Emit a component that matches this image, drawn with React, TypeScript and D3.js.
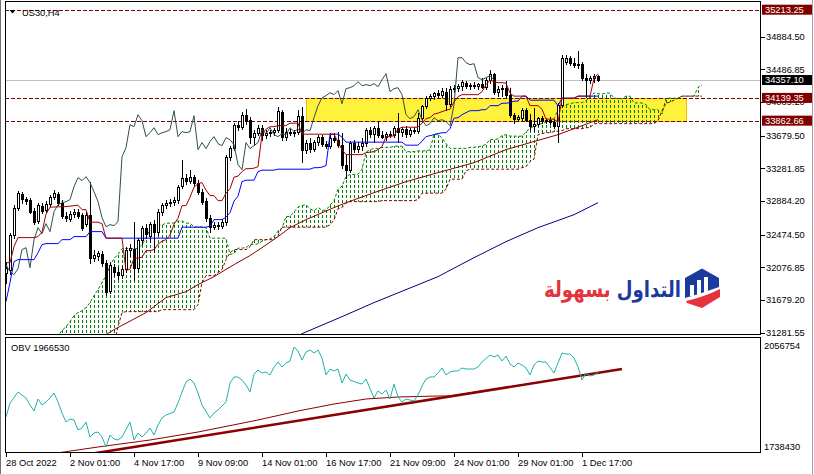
import React from "react";
import * as d3 from "d3";

// ---------- candles (H4 bars, index 0 = 28 Oct 2022) ----------
const opens = [
  32013, 32049, 32475, 32804, 32974, 32913, 32901, 32767, 32645, 32828,
  32779, 32852, 32938, 32974, 32864, 32706, 32670, 32731, 32755, 32718,
  32609, 32718, 32195, 32220, 32244, 32134, 31793, 32086, 32025, 31988,
  32061, 32293, 32305, 32073, 32414, 32560, 32463, 32609, 32512, 32755,
  32840, 32864, 32877, 32901, 33071, 33169, 33132, 33181, 33108, 32998,
  32889, 32682, 32572, 32597, 32585, 32633, 33424, 33534, 33814, 33789,
  33935, 33874, 33668, 33716, 33777, 33692, 33716, 33729, 33753, 33972,
  33668, 33729, 33716, 33729, 33923, 33510, 33595, 33522, 33607, 33668,
  33583, 33558, 33656, 33631, 33570, 33327, 33266, 33595, 33522, 33558,
  33595, 33753, 33704, 33777, 33692, 33668, 33704, 33692, 33777, 33729,
  33765, 33704, 33753, 33741, 33899, 34045, 34142, 34167, 34203, 34179,
  34215, 34069, 34252, 34264, 34288, 34325, 34288, 34301, 34288, 34313,
  34276, 34361, 34434, 34215, 34252, 34264, 34179, 33935, 33887, 33899,
  33996, 33874, 33801, 33826, 33899, 33862, 33874, 33850, 33801, 34057,
  34580, 34629, 34568, 34544, 34556, 34386, 34361, 34386, 34410,
];
const highs = [
  32147, 32499, 32840, 33011, 32998, 32938, 32925, 32804, 32864, 32864,
  32889, 32962, 33023, 32998, 32901, 32755, 32767, 32791, 32791, 32743,
  32755, 33120, 32293, 32280, 32280, 32171, 32147, 32122, 32073, 32098,
  32329, 32366, 32633, 32439, 32585, 32609, 32633, 32658, 32791, 32864,
  32901, 32913, 32938, 33084, 33388, 33217, 33266, 33205, 33144, 33035,
  32925, 32718, 32633, 32633, 32670, 33449, 33558, 33838, 33862, 33972,
  34008, 33911, 33753, 33814, 33814, 33753, 33753, 33777, 34033, 33996,
  33777, 33765, 33753, 33996, 34033, 33631, 33656, 33631, 33692, 33692,
  33619, 33716, 33716, 33729, 33716, 33449, 33619, 33631, 33607, 33656,
  33777, 33789, 33801, 33850, 33741, 33729, 33741, 33801, 33960, 33789,
  33801, 33777, 33789, 33960, 34057, 34167, 34191, 34215, 34240, 34264,
  34264, 34288, 34301, 34313, 34361, 34349, 34325, 34337, 34325, 34386,
  34386, 34483, 34447, 34288, 34301, 34349, 34264, 33960, 33935, 34021,
  34021, 33947, 34021, 33911, 33923, 33899, 33911, 33887, 34082, 34666,
  34666, 34653, 34629, 34714, 34580, 34434, 34410, 34434, 34422,
];
const lows = [
  31891, 32000, 32439, 32779, 32864, 32852, 32743, 32609, 32621, 32743,
  32755, 32828, 32913, 32840, 32682, 32645, 32645, 32694, 32682, 32536,
  32585, 32134, 32159, 32171, 32098, 31745, 31769, 31976, 31939, 31952,
  32025, 32220, 31927, 32025, 32366, 32439, 32390, 32268, 32475, 32718,
  32804, 32828, 32840, 32864, 33047, 33096, 33108, 33071, 32974, 32852,
  32645, 32512, 32548, 32548, 32560, 32597, 33388, 33510, 33753, 33765,
  33826, 33595, 33570, 33692, 33631, 33656, 33680, 33692, 33729, 33631,
  33631, 33692, 33680, 33704, 33364, 33473, 33485, 33497, 33570, 33558,
  33534, 33534, 33607, 33546, 33290, 33169, 33242, 33485, 33485, 33510,
  33558, 33668, 33607, 33668, 33656, 33631, 33668, 33668, 33607, 33680,
  33668, 33680, 33716, 33716, 33874, 34021, 34118, 34130, 34155, 34155,
  33996, 34045, 34215, 34228, 34240, 34264, 34252, 34264, 34252, 34264,
  34252, 34325, 34191, 34167, 34167, 34155, 33911, 33838, 33862, 33874,
  33862, 33753, 33741, 33801, 33838, 33838, 33826, 33777, 33607, 34033,
  34556, 34544, 34520, 34507, 34361, 34155, 34325, 34337, 34349,
];
const closes = [
  32073, 32475, 32804, 32986, 32913, 32889, 32755, 32633, 32840, 32767,
  32852, 32938, 32986, 32864, 32706, 32682, 32731, 32755, 32706, 32560,
  32718, 32195, 32232, 32256, 32134, 31781, 32110, 32025, 31988, 32061,
  32293, 32317, 32073, 32414, 32560, 32487, 32609, 32512, 32755, 32840,
  32864, 32877, 32901, 33059, 33169, 33132, 33181, 33108, 32998, 32877,
  32682, 32572, 32597, 32585, 32633, 33424, 33534, 33814, 33789, 33935,
  33862, 33668, 33716, 33777, 33692, 33716, 33729, 33753, 33984, 33668,
  33729, 33716, 33729, 33923, 33510, 33595, 33522, 33607, 33668, 33583,
  33558, 33656, 33631, 33570, 33327, 33266, 33595, 33522, 33558, 33595,
  33753, 33704, 33777, 33692, 33668, 33704, 33692, 33777, 33729, 33765,
  33704, 33753, 33741, 33899, 34045, 34142, 34167, 34203, 34179, 34228,
  34069, 34252, 34264, 34288, 34337, 34288, 34301, 34288, 34313, 34276,
  34361, 34434, 34215, 34252, 34264, 34179, 33935, 33887, 33911, 33996,
  33874, 33801, 33826, 33899, 33862, 33874, 33850, 33801, 34057, 34629,
  34629, 34568, 34544, 34556, 34386, 34361, 34386, 34410, 34357.1,
];

// ---------- Ichimoku lines: [bar, price] ----------
const tenkan = [[0,32134],[1,32134],[2,32329],[3,32439],[7,32439],[8,32451],[9,32505],[10,32725],[11,32810],[15,32816],[16,32822],[18,32834],[19,32779],[20,32779],[21,32627],[23,32627],[24,32609],[25,32432],[29,32432],[30,32037],[31,32055],[32,32189],[33,32189],[34,32201],[35,32280],[36,32280],[37,32293],[38,32359],[39,32396],[40,32414],[41,32469],[42,32603],[43,32676],[44,32828],[45,32828],[46,32931],[47,33053],[48,33096],[49,33108],[50,33017],[51,32950],[52,32950],[53,32889],[54,32889],[55,32980],[56,33035],[57,33175],[58,33187],[59,33242],[60,33278],[61,33278],[62,33284],[63,33303],[64,33698],[65,33759],[66,33789],[67,33789],[68,33802],[70,33802],[71,33832],[73,33832],[74,33698],[82,33698],[83,33601],[84,33510],[85,33449],[89,33449],[90,33473],[91,33479],[92,33485],[93,33510],[94,33546],[95,33668],[96,33668],[97,33680],[98,33759],[99,33783],[103,33783],[104,33832],[105,33887],[106,33899],[107,33942],[108,33954],[109,33972],[110,33990],[111,34002],[112,34088],[113,34155],[114,34179],[118,34179],[119,34215],[120,34301],[121,34355],[122,34337],[123,34325],[124,34325],[125,34319],[126,34197],[127,34161],[130,34161],[131,34045],[133,34045],[134,34002],[135,33881],[137,33881],[138,33844],[139,34136],[142,34136],[143,34161],[146,34161],[147,34374],[148,34434]];
const kijun = [[0,31660],[1,31891],[2,32147],[3,32171],[7,32171],[8,32256],[9,32353],[10,32366],[13,32366],[14,32414],[16,32414],[17,32451],[20,32451],[21,32512],[24,32512],[25,32432],[43,32432],[44,32566],[50,32566],[51,32578],[52,32658],[54,32658],[55,32688],[56,32743],[57,32883],[58,32944],[59,33120],[60,33138],[62,33138],[63,33242],[64,33260],[67,33260],[68,33272],[76,33272],[77,33290],[78,33290],[79,33297],[80,33315],[81,33698],[83,33698],[84,33662],[85,33601],[99,33601],[100,33564],[103,33564],[104,33613],[105,33668],[106,33680],[107,33692],[108,33704],[109,33716],[110,33716],[111,33765],[112,33893],[113,33899],[114,33935],[115,33960],[116,33984],[118,33984],[119,33996],[120,33996],[121,34045],[123,34045],[124,34075],[125,34075],[126,34082],[127,34100],[128,34100],[129,34161],[130,34161],[131,34112],[137,34112],[138,34045],[139,34136],[142,34136],[143,34161],[148,34161]];
const senkouA = [[12,31173],[13,31246],[14,31307],[15,31355],[16,31416],[17,31489],[18,31526],[19,31550],[20,31587],[21,31647],[22,31733],[23,31806],[24,31891],[25,31976],[26,32098],[27,32183],[28,32238],[29,32305],[33,32305],[34,32353],[35,32429],[36,32545],[37,32588],[39,32591],[40,32615],[41,32615],[42,32618],[43,32642],[44,32642],[45,32615],[46,32615],[47,32569],[49,32569],[50,32560],[51,32432],[55,32432],[56,32235],[57,32244],[58,32311],[59,32311],[60,32317],[61,32356],[62,32356],[63,32362],[64,32396],[65,32414],[66,32423],[67,32451],[68,32518],[69,32554],[70,32697],[71,32697],[72,32749],[73,32810],[74,32831],[75,32837],[76,32791],[77,32764],[78,32804],[79,32773],[80,32773],[81,32834],[82,32889],[83,33029],[84,33065],[85,33181],[86,33208],[87,33208],[88,33211],[89,33272],[90,33479],[91,33510],[92,33525],[93,33525],[94,33537],[96,33537],[97,33552],[99,33552],[100,33485],[102,33485],[103,33494],[104,33494],[105,33497],[106,33506],[107,33698],[108,33698],[109,33649],[110,33586],[111,33525],[115,33525],[116,33537],[117,33540],[118,33543],[119,33555],[120,33573],[121,33634],[122,33634],[123,33640],[124,33680],[125,33692],[126,33674],[129,33674],[130,33722],[131,33777],[132,33789],[133,33817],[134,33829],[135,33844],[136,33853],[137,33884],[138,33990],[139,34027],[140,34057],[141,34069],[142,34082],[144,34082],[145,34106],[146,34148],[147,34200],[148,34191],[149,34185],[150,34200],[151,34197],[152,34139],[153,34130],[154,34130],[155,34161],[156,34161],[157,34078],[159,34078],[160,34057],[161,33996],[163,33996],[164,33945],[165,34136],[168,34136],[169,34161],[172,34161],[173,34267],[174,34298]];
const senkouB = [[12,31076],[27,31136],[28,31355],[29,31526],[30,31538],[38,31538],[39,31562],[47,31562],[48,31623],[49,31891],[50,31976],[52,31976],[53,32013],[54,32049],[55,32171],[56,32256],[57,32293],[60,32293],[61,32329],[62,32414],[67,32414],[68,32463],[69,32566],[80,32566],[81,32597],[82,32652],[83,32791],[84,32804],[85,32858],[86,32877],[93,32877],[94,32889],[102,32889],[103,32901],[104,32980],[109,32980],[110,33029],[111,33150],[114,33150],[115,33254],[116,33272],[128,33272],[129,33290],[130,33303],[131,33364],[132,33394],[133,33692],[134,33704],[135,33716],[136,33716],[137,33729],[138,33735],[139,33741],[140,33765],[144,33765],[145,33777],[146,33777],[147,33826],[162,33826],[163,33862],[164,33984],[165,34075],[166,34088],[167,34112],[168,34136],[169,34161],[174,34161]];

// ---------- moving averages ----------
const maSlow = [[23,31197],[27,31319],[35,31526],[40,31708],[45,31781],[48,31867],[52,31964],[57,32110],[61,32220],[64,32317],[68,32451],[71,32560],[75,32658],[82,32804],[85,32864],[92,32986],[100,33120],[108,33230],[117,33351],[125,33510],[138,33692],[148,33874]];
const maSlowest = [[72,31197],[74,31270],[84,31477],[92,31648],[100,31806],[108,31964],[117,32195],[125,32390],[133,32560],[142,32718],[148,32864]];

// ---------- OBV ----------
const obvLine = [[0,1836810],[1,1877326],[3,1909160],[4,1900478],[5,1891796],[6,1871538],[7,1854174],[8,1888902],[9,1871538],[10,1880220],[11,1891796],[12,1906266],[13,1880220],[14,1848386],[15,1822340],[16,1831022],[17,1828128],[18,1799188],[19,1804976],[20,1822340],[21,1778930],[22,1790506],[23,1793400],[24,1778930],[25,1749990],[26,1784718],[27,1773142],[28,1770248],[29,1778930],[31,1822340],[32,1770248],[33,1790506],[34,1778930],[35,1790506],[36,1804976],[37,1784718],[38,1813658],[39,1833916],[40,1842598],[42,1851280],[43,1877326],[44,1909160],[45,1938100],[46,1946782],[47,1935206],[48,1906266],[49,1871538],[51,1833916],[52,1848386],[53,1857068],[55,1880220],[56,1935206],[57,1952570],[58,1952570],[59,1943888],[60,1929418],[61,1909160],[62,1961252],[63,1972828],[64,1964146],[65,1967040],[66,1958358],[67,1981510],[68,1995980],[69,1981510],[70,1993086],[71,1998874],[72,2039390],[73,2027814],[74,2001768],[75,2024920],[76,2030708],[77,2022026],[78,2030708],[79,2007556],[80,1958358],[81,1975722],[82,1969934],[83,1975722],[84,1935206],[85,1961252],[86,1943888],[88,1935206],[89,1932312],[90,1946782],[92,1891796],[93,1912054],[94,1903372],[95,1914948],[96,1888902],[97,1932312],[98,1894690],[99,1880220],[100,1888902],[102,1883114],[103,1900478],[104,1926524],[105,1946782],[106,1952570],[107,1952570],[108,1964146],[109,1978616],[110,1958358],[111,1967040],[112,1969934],[113,1969934],[114,1978616],[115,1975722],[117,1975722],[118,1981510],[119,1995980],[121,2016238],[122,2010450],[123,2016238],[124,1998874],[125,2013344],[126,1990192],[127,1981510],[128,1993086],[129,1987298],[130,1978616],[131,1958358],[132,1987298],[133,1998874],[134,1995980],[135,1995980],[137,1964146],[138,1993086],[139,2022026],[140,2019132],[141,2019132],[142,2007556],[143,1981510],[144,1943888],[145,1964146],[146,1955464],[147,1958358],[148,1966530]];
const obvAverage = [[11,1729732],[23,1749990],[36,1770248],[48,1793400],[63,1828128],[73,1854174],[82,1874432],[90,1888902],[98,1894690],[108,1897584],[111,1897584],[123,1919289],[136,1942441],[148,1964146]];
const obvTrend = [[21,1729732],[154,1975722]];
const obvScaleLabels = [2056754, 1738430];

// ---------- axes / objects ----------
const priceTicks = [34884.5, 34486.85, 34089.2, 33679.5, 33281.85, 32884.2, 32474.5, 32076.85, 31679.2, 31281.55];
const timeLabels = ["28 Oct 2022", "2 Nov 01:00", "4 Nov 17:00", "9 Nov 09:00", "14 Nov 01:00", "16 Nov 17:00", "21 Nov 09:00", "24 Nov 01:00", "29 Nov 01:00", "1 Dec 17:00"];
const timeLabelBars = [0, 16, 32, 48, 64, 80, 96, 112, 128, 144];
const levelPrices = [35213.25, 34139.35, 33862.66];
const bidPrice = 34357.1;
const zoneBars = [75, 170];
const zonePrices = [33862.66, 34139.35];
const logoWords = ["التداول", "بسهولة"];

const FONT = "Tahoma, 'Liberation Sans', Arial, sans-serif";

export default function App() {
  const x = d3.scaleLinear().domain([0, 188]).range([6, 758]);
  const y = d3.scaleLinear().domain([31281.55, 34884.5]).range([332.7, 36.7]);
  const yo = d3.scaleLinear().domain([1738430, 2056754]).range([451, 341]);
  const lineMain = d3.line<number[]>().x((d) => x(d[0])).y((d) => y(d[1]));
  const lineObv = d3.line<number[]>().x((d) => x(d[0])).y((d) => yo(d[1]));
  const chikou = closes.slice(26).map((c, j) => [j, c]);
  const cloud = lineMain([...senkouA, ...senkouB.slice().reverse()]) + "Z";
  const py = (p: number) => Math.round(y(p)) + 0.5;

  return (
    <svg width={814} height={474} style={{ position: "absolute", left: 0, top: 0, background: "#fff" }} fontFamily={FONT}>
      <defs>
        <clipPath id="mainClip"><rect x={6} y={2} width={755} height={332} /></clipPath>
        <clipPath id="obvClip"><rect x={6} y={338} width={755} height={114} /></clipPath>
        <pattern id="hatch" patternUnits="userSpaceOnUse" x={x(0)} y={0} width={4} height={5}>
          <rect x={0} y={0} width={1} height={3} fill="#008000" />
        </pattern>
      </defs>
      <rect x={0} y={0} width={814} height={474} fill="#fff" />

      <g clipPath="url(#mainClip)">
        {/* zone rectangle */}
        <rect x={Math.round(x(zoneBars[0])) + 0.5} y={py(zonePrices[1])}
          width={Math.round(x(zoneBars[1]) - x(zoneBars[0]))}
          height={Math.round(y(zonePrices[0]) - y(zonePrices[1]))}
          fill="#FFF23A" stroke="#F5B800" strokeWidth={1} />
        {/* levels */}
        <line x1={5} x2={761} y1={py(bidPrice)} y2={py(bidPrice)} stroke="#C0C0C0" />
        {levelPrices.map((p) => (
          <line key={p} x1={5} x2={761} y1={py(p)} y2={py(p)} stroke="#800000" strokeDasharray="4,2" />
        ))}
        {/* cloud */}
        <path d={cloud} fill="url(#hatch)" stroke="none" />
        <path d={lineMain(senkouA) || ""} fill="none" stroke="#008000" strokeDasharray="3,2" />
        <path d={lineMain(senkouB) || ""} fill="none" stroke="#8B0000" strokeDasharray="3,2" />
        {/* moving averages */}
        <path d={lineMain(maSlow) || ""} fill="none" stroke="#8B0000" strokeWidth={1} />
        <path d={lineMain(maSlowest) || ""} fill="none" stroke="#000080" strokeWidth={1} />
        {/* candles */}
        <g shapeRendering="crispEdges">
          {closes.map((c, i) => {
            const o = opens[i];
            const cx = Math.round(x(i));
            const yt = Math.round(y(Math.max(o, c)));
            const yb = Math.round(y(Math.min(o, c)));
            const bull = c >= o;
            return (
              <g key={i}>
                <line x1={cx + 0.5} x2={cx + 0.5} y1={Math.round(y(highs[i]))} y2={Math.round(y(lows[i])) + 1} stroke="#000" />
                {yb - yt < 1 ? (
                  <line x1={cx - 1} x2={cx + 2} y1={yt + 0.5} y2={yt + 0.5} stroke="#000" />
                ) : (
                  <rect x={cx - 0.5} y={yt + 0.5} width={2} height={yb - yt} fill={bull ? "#fff" : "#000"} stroke="#000" />
                )}
              </g>
            );
          })}
        </g>
        {/* ichimoku lines */}
        <path d={lineMain(chikou) || ""} fill="none" stroke="#2F4F4F" strokeWidth={1} />
        <path d={lineMain(kijun) || ""} fill="none" stroke="#0000FF" strokeWidth={1} />
        <path d={lineMain(tenkan) || ""} fill="none" stroke="#A00000" strokeWidth={1} />

        {/* logo */}
        <g>
          <text x={681} y={297} textAnchor="end" fontFamily="'DejaVu Sans', sans-serif" fontWeight="bold" fontSize={22}
            textLength={137} lengthAdjust="spacingAndGlyphs">
            <tspan fill="#1B3A9E">{logoWords[0]}</tspan>
            <tspan fill="#E5323C">{" " + logoWords[1]}</tspan>
          </text>
          <path d="M685,278 L702,268.5 L719,278 L719,287 Q703,293 685,298 Z" fill="#1B3A9E" />
          <rect x={690} y={285} width={4} height={11} fill="#fff" />
          <rect x={697} y={280} width={4} height={14} fill="#fff" />
          <rect x={704} y={277} width={4} height={15} fill="#fff" />
          <path d="M686,301 Q704,297 720,289 L720,297 L702,308 L687,303 Z" fill="#E5323C" />
        </g>
      </g>

      {/* main frame */}
      <rect x={5.5} y={1.5} width={755} height={333} fill="none" stroke="#000" />
      <text x={22} y={15.5} fontSize={9.3} fill="#000">US30,H4</text>
      <path d="M9.5,10 L15.5,10 L12.5,13.5 Z" fill="#000" />

      {/* price axis */}
      {priceTicks.map((p) => (
        <g key={p}>
          <line x1={761} x2={765} y1={py(p)} y2={py(p)} stroke="#000" />
          <text x={766} y={y(p) + 3.4} fontSize={9.3} fill="#000">{p.toFixed(2)}</text>
        </g>
      ))}
      {levelPrices.map((p) => (
        <g key={"l" + p}>
          <rect x={762} y={y(p) - 5} width={51} height={10} fill="#800000" />
          <text x={765} y={y(p) + 3.4} fontSize={9.3} fill="#fff">{p.toFixed(2)}</text>
        </g>
      ))}
      <rect x={762} y={y(bidPrice) - 5} width={51} height={10} fill="#000" />
      <text x={765} y={y(bidPrice) + 3.4} fontSize={9.3} fill="#fff">{bidPrice.toFixed(2)}</text>

      {/* OBV panel */}
      <g clipPath="url(#obvClip)">
        <path d={lineObv(obvTrend) || ""} fill="none" stroke="#8B0000" strokeWidth={2.6} />
        <path d={lineObv(obvAverage) || ""} fill="none" stroke="#8B0000" strokeWidth={1} />
        <path d={lineObv(obvLine) || ""} fill="none" stroke="#20B2AA" strokeWidth={1} />
      </g>
      <rect x={5.5} y={337.5} width={755} height={115} fill="none" stroke="#000" />
      <text x={11} y={350.5} fontSize={9.3} fill="#000">OBV {obvLine[obvLine.length - 1][1]}</text>
      <text x={764} y={348.5} fontSize={9.3} fill="#000">{obvScaleLabels[0]}</text>
      <text x={764} y={450} fontSize={9.3} fill="#000">{obvScaleLabels[1]}</text>

      {/* time axis */}
      {timeLabels.map((t, k) => {
        const tx = Math.round(x(timeLabelBars[k])) + 0.5;
        return (
          <g key={t}>
            <line x1={tx} x2={tx} y1={453} y2={457} stroke="#000" />
            <text x={tx - 0.5} y={466} fontSize={9.3} fill="#000">{t}</text>
          </g>
        );
      })}
      <line x1={0.5} x2={0.5} y1={0} y2={474} stroke="#707070" />
      <line x1={812.5} x2={812.5} y1={0} y2={474} stroke="#A0A0A0" />
    </svg>
  );
}
